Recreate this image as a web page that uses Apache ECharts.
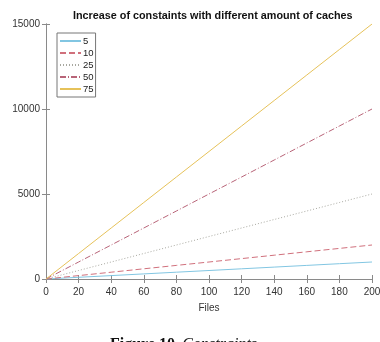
<!DOCTYPE html>
<html><head><meta charset="utf-8">
<script src="https://cdn.jsdelivr.net/npm/echarts@6/dist/echarts.min.js"></script>
<style>html,body{margin:0;padding:0;background:#fff}#c{width:380px;height:342px}</style>
</head><body><div id="c"></div>
<script>
const files = [0,20,40,60,80,100,120,140,160,180,200];
const s5  = [0,100,200,300,400,500,600,700,800,900,1000];
const s10 = [0,200,400,600,800,1000,1200,1400,1600,1800,2000];
const s25 = [0,500,1000,1500,2000,2500,3000,3500,4000,4500,5000];
const s50 = [0,1000,2000,3000,4000,5000,6000,7000,8000,9000,10000];
const s75 = [0,1500,3000,4500,6000,7500,9000,10500,12000,13500,15000];
const names = ['5','10','25','50','75'];
const colors = ['#82c6e2','#d0707c','#a8a8a0','#b86478','#e6c25a'];
const dashes = ['solid',[6,3],[1,2],[6,2,1,2],'solid'];
const all = [s5,s10,s25,s50,s75];
const font = 'Liberation Sans';
const axC = '#8a8a8a';
const chart = echarts.init(document.getElementById('c'));
chart.setOption({
  animation:false,
  title:{text:'Increase of constaints with different amount of caches',left:68,top:6,
    textStyle:{fontFamily:font,fontSize:10.8,fontWeight:'bold',color:'#111'}},
  grid:{left:46,right:8,top:24,bottom:63,outerBoundsMode:'none',containLabel:false},
  legend:{orient:'vertical',left:57,top:33,itemWidth:21,itemHeight:6,itemGap:2,padding:[3,2,3,2],
    borderColor:'#777',borderWidth:1,backgroundColor:'#fff',itemStyle:{opacity:0},
    textStyle:{fontFamily:font,fontSize:9.5,lineHeight:10,color:'#222',padding:[0,0,0,-3]},data:names},
  xAxis:[{type:'value',position:'bottom',min:0,max:200,interval:20,
    axisLine:{lineStyle:{color:axC}},axisTick:{inside:true,length:4,lineStyle:{color:axC}},
    axisLabel:{fontFamily:font,fontSize:10,color:'#333',margin:8,formatter:v=>String(v)},splitLine:{show:false},
    name:'Files',nameLocation:'middle',nameGap:24,nameTextStyle:{fontFamily:font,fontSize:10,color:'#333'}},
   {type:'value',position:'top',min:0,max:200,interval:20,
    axisLine:{show:true,lineStyle:{color:axC}},axisTick:{inside:true,length:4,lineStyle:{color:axC}},
    axisLabel:{show:false},splitLine:{show:false}}],
  yAxis:[{type:'value',position:'left',min:0,max:15000,interval:5000,
    axisLine:{show:true,lineStyle:{color:axC}},axisTick:{show:true,inside:true,length:4,lineStyle:{color:axC}},
    axisLabel:{fontFamily:font,fontSize:10,color:'#333',margin:6,formatter:v=>String(v)},splitLine:{show:false},
    name:'Constraints',nameLocation:'middle',nameGap:33,nameTextStyle:{fontFamily:font,fontSize:10,color:'#333'}},
   {type:'value',position:'right',min:0,max:15000,interval:5000,
    axisLine:{show:true,lineStyle:{color:axC}},axisTick:{show:true,inside:true,length:4,lineStyle:{color:axC}},
    axisLabel:{show:false},splitLine:{show:false}}],
  series: names.map((n,i)=>({name:n,type:'line',symbol:'none',color:colors[i],
    lineStyle:{width:1,color:colors[i],type:dashes[i]},
    data: files.map((f,j)=>[f,all[i][j]])})),
  graphic:[{type:'text',left:110,top:337,style:{
    rich:{b:{fontFamily:'Liberation Serif',fontWeight:'bold',fontSize:16,fill:'#111'},
          i:{fontFamily:'Liberation Serif',fontStyle:'italic',fontSize:16,fill:'#111'}},
    text:'{b|Figure 10.} {i|Constraints}'}}]
});
</script></body></html>
